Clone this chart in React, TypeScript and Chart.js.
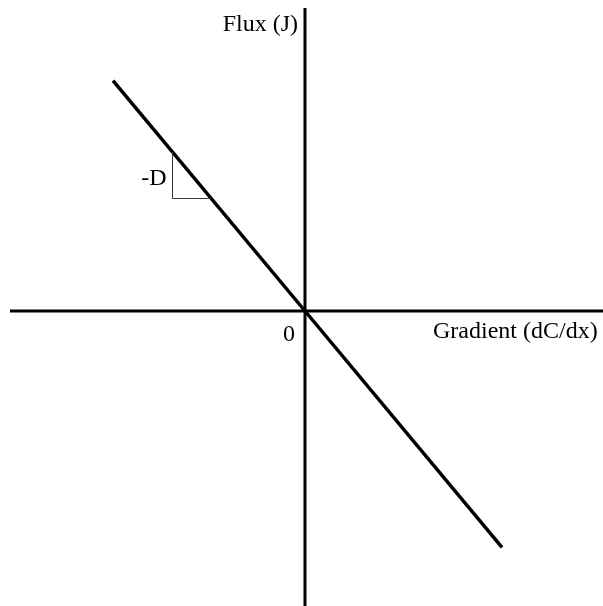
import React, { useEffect, useRef } from "react";
import { Chart, registerables } from "chart.js";

Chart.register(...registerables);

// Axis extents (gradient on x, flux on y)
const gradientAxis = [-29.5, 29.8];
const fluxAxis = [30.3, -29.5];

// Fick's law line: flux = -D * gradient
const gradientValues = [-19.2, 0, 19.7];
const fluxValues = [23.04, 0, -23.64];

// Slope triangle marking -D
const slopeTriangleGradient = [-13.25, -13.25, -9.375];
const slopeTriangleFlux = [15.9, 11.25, 11.25];

const xLabel = "Gradient (dC/dx)";
const yLabel = "Flux (J)";
const originLabel = "0";
const slopeLabel = "-D";

const FONT = '24px "Liberation Serif", "Times New Roman", serif';

const labelsPlugin = {
  id: "diagramLabels",
  afterDatasetsDraw(chart: any) {
    const { ctx, scales } = chart;
    const xs = scales.x;
    const ys = scales.y;
    const ox = xs.getPixelForValue(0);
    const oy = ys.getPixelForValue(0);
    const top = ys.getPixelForValue(fluxAxis[0]);
    ctx.save();
    ctx.font = FONT;
    ctx.fillStyle = "#000";
    ctx.textBaseline = "alphabetic";

    ctx.textAlign = "right";
    ctx.fillText(yLabel, ox - 7, top + 23);

    ctx.textAlign = "left";
    ctx.fillText(xLabel, ox + 128, oy + 27);

    ctx.textAlign = "right";
    ctx.fillText(originLabel, ox - 10, oy + 30);

    const tx = xs.getPixelForValue(slopeTriangleGradient[0]);
    const tMid =
      (ys.getPixelForValue(slopeTriangleFlux[0]) +
        ys.getPixelForValue(slopeTriangleFlux[1])) /
      2;
    ctx.fillText(slopeLabel, tx - 6, tMid + 10);
    ctx.restore();
  },
};

export default function App() {
  const ref = useRef<HTMLCanvasElement | null>(null);

  useEffect(() => {
    if (!ref.current) return;
    const pts = (xs: number[], ys: number[]) =>
      xs.map((x, i) => ({ x, y: ys[i] }));

    const chart = new Chart(ref.current, {
      type: "scatter",
      data: {
        datasets: [
          {
            label: "slope",
            data: pts(slopeTriangleGradient, slopeTriangleFlux),
            showLine: true,
            borderColor: "#3a3a3a",
            borderWidth: 1,
            pointRadius: 0,
            fill: false,
          },
          {
            label: "x axis",
            data: pts(gradientAxis, [0, 0]),
            showLine: true,
            borderColor: "#000",
            borderWidth: 3,
            pointRadius: 0,
          },
          {
            label: "y axis",
            data: pts([0, 0], fluxAxis),
            showLine: true,
            borderColor: "#000",
            borderWidth: 3,
            pointRadius: 0,
          },
          {
            label: "flux",
            data: pts(gradientValues, fluxValues),
            showLine: true,
            borderColor: "#000",
            borderWidth: 3.5,
            pointRadius: 0,
          },
        ],
      },
      options: {
        responsive: false,
        animation: false,
        devicePixelRatio: 1,
        layout: { padding: 0 },
        plugins: {
          legend: { display: false },
          tooltip: { enabled: false },
        },
        scales: {
          x: { type: "linear", display: false, min: -30.5, max: 29.8 },
          y: { type: "linear", display: false, min: -29.5, max: 31.1 },
        },
      },
      plugins: [labelsPlugin],
    });
    return () => chart.destroy();
  }, []);

  return (
    <div
      style={{
        position: "absolute",
        left: 0,
        top: 0,
        width: 603,
        height: 606,
        background: "#fff",
      }}
    >
      <canvas ref={ref} width={603} height={606} style={{ display: "block" }} />
    </div>
  );
}
